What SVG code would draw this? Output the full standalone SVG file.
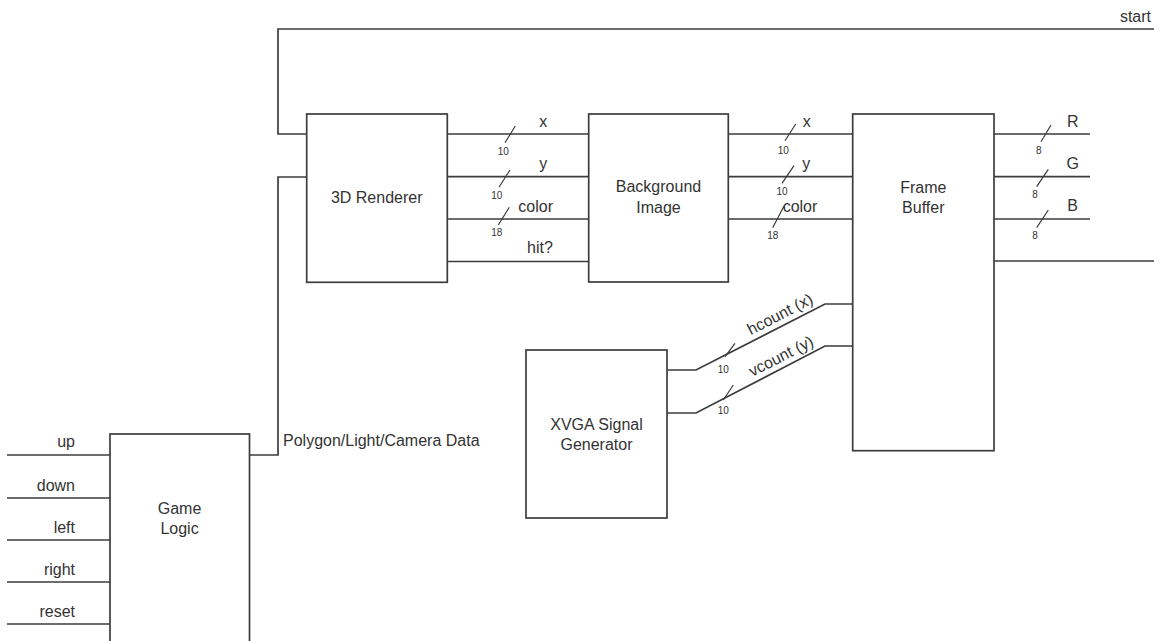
<svg xmlns="http://www.w3.org/2000/svg" width="1154" height="641" viewBox="0 0 1154 641">
  <style>
    .box { fill: #ffffff; stroke: #3c3c3c; stroke-width: 1.7; }
    .wire { fill: none; stroke: #3c3c3c; stroke-width: 1.7; }
    .tick { fill: none; stroke: #3c3c3c; stroke-width: 1.2; }
    text { font-family: "Liberation Sans", Arial, sans-serif; fill: #333333; }
    .name { font-size: 16px; text-anchor: middle; }
    .lbl { font-size: 16px; }
    .mid { text-anchor: middle; }
    .end { text-anchor: end; }
    .w { font-size: 10px; text-anchor: middle; }
  </style>
  <rect width="1154" height="641" fill="#ffffff"/>

  <!-- wires -->
  <g id="connectors">
    <!-- start feedback loop -->
    <path class="wire" d="M1154,29 H278 V134 H306.7"/>
    <!-- game logic to renderer -->
    <path class="wire" d="M249.5,455 H278 V177 H306.7"/>
    <!-- renderer to background image -->
    <path class="wire" d="M447.3,134 H588.7 M447.3,176.7 H588.7 M447.3,219 H588.7 M447.3,261.5 H588.7"/>
    <!-- background image to frame buffer -->
    <path class="wire" d="M728.3,134 H852.7 M728.3,176.7 H852.7 M728.3,219 H852.7"/>
    <!-- frame buffer outputs -->
    <path class="wire" d="M994,134 H1090 M994,176.7 H1090 M994,219 H1090 M994,261 H1154"/>
    <!-- XVGA counters -->
    <path class="wire" d="M667,370 H696 L825,304 H852.7"/>
    <path class="wire" d="M667,413 H696 L825,346 H852.7"/>
    <!-- game inputs -->
    <path class="wire" d="M7,455 H110 M7,498 H110 M7,540 H110 M7,582 H110 M7,624 H110"/>

    <!-- bus width ticks -->
    <path class="tick" d="M515.3,126 L505,142.7 M510,170 L499,187.3 M509.3,207.3 L498.3,225"/>
    <path class="tick" d="M795.7,124 L785,140.7 M794,165.7 L782,183.3 M784,206 L772.7,227.7"/>
    <path class="tick" d="M1051,125 L1041,141.7 M1048.3,169.3 L1036.7,186.7 M1048.3,210 L1036.7,227.7"/>
    <path class="tick" d="M735,343.3 L725,356.7 M733.3,385 L723.3,400"/>

    <!-- widths -->
    <text class="w" x="503.3" y="155.2">10</text>
    <text class="w" x="496.7" y="198.5">10</text>
    <text class="w" x="496.7" y="235.8">18</text>
    <text class="w" x="783.3" y="153.5">10</text>
    <text class="w" x="782" y="195.2">10</text>
    <text class="w" x="772.7" y="238.5">18</text>
    <text class="w" x="1038.7" y="153.5">8</text>
    <text class="w" x="1035" y="197.8">8</text>
    <text class="w" x="1035" y="238.5">8</text>
    <text class="w" x="723.3" y="372.8">10</text>
    <text class="w" x="723.3" y="414.2">10</text>

    <!-- signal names -->
    <text class="lbl end" x="1151" y="22">start</text>
    <text class="lbl" x="283" y="446">Polygon/Light/Camera Data</text>
    <text class="lbl mid" x="543.3" y="127">x</text>
    <text class="lbl mid" x="543.3" y="168.5">y</text>
    <text class="lbl mid" x="535.7" y="211.5">color</text>
    <text class="lbl mid" x="540" y="253.3">hit?</text>
    <text class="lbl mid" x="806.7" y="127">x</text>
    <text class="lbl mid" x="806.3" y="168.5">y</text>
    <text class="lbl mid" x="800" y="211.5">color</text>
    <text class="lbl mid" x="1072.7" y="127.3">R</text>
    <text class="lbl mid" x="1072.7" y="169">G</text>
    <text class="lbl mid" x="1072.7" y="210.7">B</text>
    <text class="lbl mid" transform="translate(782.5,319) rotate(-27.1)">hcount (x)</text>
    <text class="lbl mid" transform="translate(783.5,361) rotate(-27.1)">vcount (y)</text>
    <text class="lbl end" x="75" y="447">up</text>
    <text class="lbl end" x="75" y="490.5">down</text>
    <text class="lbl end" x="75" y="532.5">left</text>
    <text class="lbl end" x="75" y="574.5">right</text>
    <text class="lbl end" x="75" y="616.5">reset</text>
  </g>

  <g id="renderer">
    <rect class="box" x="306.7" y="114" width="140.6" height="168.3"/>
    <text class="name" x="376.7" y="203">3D Renderer</text>
  </g>

  <g id="background-image">
    <rect class="box" x="588.7" y="114" width="139.6" height="168"/>
    <text class="name" x="658.5" y="192">Background</text>
    <text class="name" x="658.5" y="213">Image</text>
  </g>

  <g id="frame-buffer">
    <rect class="box" x="852.7" y="114" width="141.3" height="336.7"/>
    <text class="name" x="923.3" y="193">Frame</text>
    <text class="name" x="923.3" y="213">Buffer</text>
  </g>

  <g id="xvga">
    <rect class="box" x="526" y="350" width="141" height="168"/>
    <text class="name" x="596.5" y="430">XVGA Signal</text>
    <text class="name" x="596.5" y="449.5">Generator</text>
  </g>

  <g id="game-logic">
    <rect class="box" x="110" y="434" width="139.5" height="240"/>
    <text class="name" x="179.5" y="514">Game</text>
    <text class="name" x="179.5" y="534">Logic</text>
  </g>
</svg>
